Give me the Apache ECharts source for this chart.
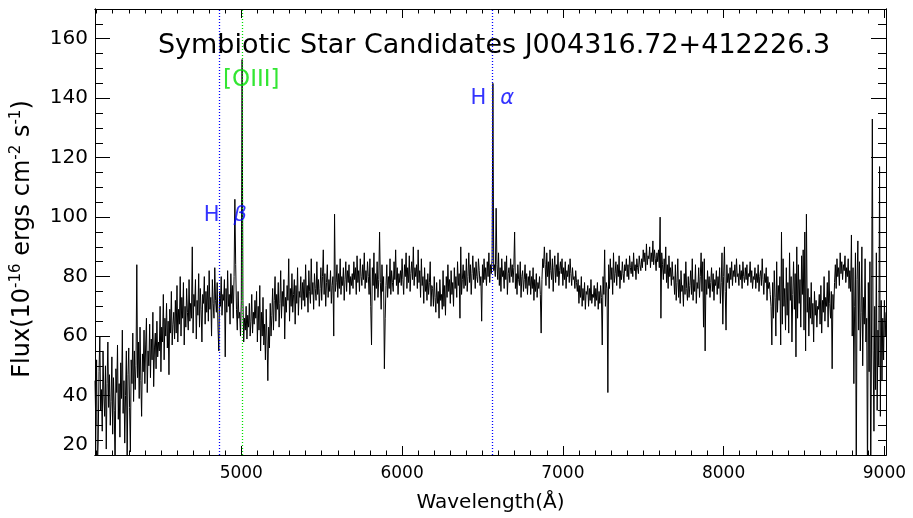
<!DOCTYPE html>
<html>
<head>
<meta charset="utf-8">
<script src="https://cdn.jsdelivr.net/npm/echarts@6/dist/echarts.min.js"></script>
<style>
html, body { margin: 0; padding: 0; background: #fff; }
#chart { width: 913px; height: 518px; }
</style>
</head>
<body>
<div id="chart"></div>
<script>
const waveStart = 4090;
const waveStep = 5;
const flux = [
  45,30,52,15,25,48,60,35,42,28,55,40,33,50,22,44,58,36,47,30,
  38,53,27,46,35,14,49,41,57,32,44,26,51,39,62,34,45,24,40,55,
  16,47,56,36,21,52,44,61,38,55,42,50,84,46,58,39,63,45,33,54,
  48,62,44,57,66,41,55,50,64,46,59,52,68,43,56,61,49,65,53,58,
  55,70,48,63,58,74,52,66,60,71,56,65,47,69,61,75,57,64,68,59,
  72,61,77,58,69,64,80,60,73,66,78,57,70,63,76,68,62,79,65,71,
  66,90,61,74,70,79,59,72,67,81,63,76,69,58,74,71,80,64,75,68,
  77,65,82,69,73,60,79,71,66,83,72,68,78,63,55,75,70,80,67,74,
  72,79,53,76,68,82,70,74,64,81,71,77,66,80,106,84,69,62,75,66,
  68,60,72,153,72,58,66,62,70,59,67,63,71,60,65,74,61,68,64,72,
  66,75,58,70,62,77,55,68,60,73,57,64,52,69,59,45,63,56,71,60,
  67,76,62,72,80,65,74,69,78,63,71,82,66,75,70,79,59,73,68,77,
  72,86,65,76,70,81,68,74,79,64,77,71,83,67,75,73,80,69,78,72,
  79,70,84,73,77,68,82,75,71,86,74,78,69,81,76,72,85,74,79,70,
  76,83,72,80,89,74,81,70,78,84,73,79,75,82,71,77,80,60,101,75,
  78,84,73,81,76,86,74,80,77,83,72,79,85,75,82,78,84,74,80,77,
  81,76,85,79,83,74,87,78,82,75,86,80,77,84,79,88,76,82,78,85,
  80,74,86,70,57,83,77,88,72,81,76,85,73,79,95,78,69,84,75,80,
  49,66,77,84,73,80,76,86,74,82,78,75,85,79,89,77,83,74,81,78,
  82,77,86,79,74,84,80,88,76,83,78,87,75,81,85,79,90,77,83,80,
  84,76,89,78,82,73,86,77,80,71,83,75,79,72,81,74,78,85,70,77,
  76,70,80,73,68,78,71,75,66,79,72,74,69,82,70,77,67,80,73,84,
  75,79,71,82,74,78,70,83,76,80,73,85,77,81,66,90,74,79,84,76,
  82,77,86,75,80,88,78,84,74,81,87,79,83,76,85,80,78,86,82,77,
  80,65,84,78,86,79,83,77,85,80,88,78,84,81,86,145,82,84,80,103,
  84,79,88,77,83,75,86,80,82,76,85,79,87,74,81,83,78,86,80,84,
  78,83,95,76,81,74,84,79,77,85,73,80,82,75,79,84,76,81,74,80,
  77,82,74,80,76,83,72,79,75,81,73,78,76,80,74,61,79,86,83,90,
  84,77,88,80,85,76,89,82,79,86,75,83,87,78,84,80,88,77,82,85,
  81,86,77,83,79,85,76,82,80,84,78,86,81,77,83,79,80,76,82,78,
  75,79,71,77,73,80,70,76,72,78,69,75,74,77,70,76,72,79,71,74,
  73,77,70,76,72,78,69,75,71,77,73,57,80,74,89,70,78,76,41,84,
  76,86,79,83,74,88,78,81,85,77,84,80,87,76,82,79,85,81,78,84,
  82,86,80,84,79,87,83,81,85,80,88,82,84,79,86,83,81,87,84,82,
  86,83,89,85,88,82,91,84,87,86,90,83,88,85,92,84,89,86,82,88,
  85,89,83,100,66,88,84,79,86,81,90,78,84,76,87,80,83,77,85,79,
  80,74,84,72,78,86,73,79,71,82,75,77,70,81,74,85,76,72,80,73,
  77,82,74,86,72,79,75,84,71,78,76,83,73,80,88,75,85,63,86,55,
  79,74,82,76,80,73,78,83,75,81,72,79,77,82,74,80,76,83,71,78,
  88,64,80,90,75,62,84,78,81,76,83,79,85,77,82,80,84,78,86,80,
  81,77,84,79,82,76,85,80,78,83,79,84,77,81,80,85,78,82,76,80,
  79,83,76,81,78,84,75,80,82,77,86,79,74,81,78,83,72,80,76,78,
  74,70,57,78,66,82,73,60,85,68,77,72,80,57,95,64,86,70,76,62,
  83,67,78,61,88,72,80,58,74,85,69,81,53,90,66,84,71,79,63,87,
  74,89,62,95,55,101,68,76,60,73,66,78,64,71,58,75,67,72,63,70,
  69,74,64,77,61,72,68,80,65,73,70,78,63,82,71,66,75,49,74,69,
  78,84,76,86,80,83,77,88,81,85,79,84,82,87,78,83,80,86,76,82,
  75,94,60,83,44,70,88,10,79,92,62,85,55,68,90,50,73,64,86,58,
  66,10,78,48,85,10,60,133,55,28,70,42,88,35,62,50,117,33,72,45,
  66,52,72,60,68
];

// marked lines (A) and their labels
const lineWaves = [4861, 5007, 6563];
const lineColors = ['#0000ff', '#00e000', '#0000ff'];
const labelX = [4900, 5062, 6561];
const labelY = [100.5, 146, 140];
const labelText = ['{h|H}{g|β}', '{o|[OIII]}', '{h|H}{g|α}'];

const xMin = 4090, xMax = 9010;
const yMin = 20, yMax = 170;
const xMajor = [5000, 6000, 7000, 8000, 9000];
const yMajor = [20, 40, 60, 80, 100, 120, 140, 160];
const xMinor = [];
for (let v = 4100; v <= 9000; v += 100) xMinor.push(v);
const yMinor = [];
for (let v = 20; v <= 170; v += 5) yMinor.push(v);

const spec = flux.map(function (f, i) { return [waveStart + i * waveStep, f]; });
const labels = labelX.map(function (x, i) { return [x, labelY[i], labelText[i]]; });

const font = 'DejaVu Sans';

function xAx(pos, ticks, len, withLabels) {
  return {
    type: 'value', min: xMin, max: xMax, position: pos,
    axisLine: { show: true, onZero: false, lineStyle: { color: '#000', width: 1 } },
    axisTick: { show: true, inside: true, length: len, customValues: ticks, lineStyle: { color: '#000', width: 1 } },
    axisLabel: withLabels ? {
      show: true, customValues: xMajor, color: '#000', fontSize: 17, fontFamily: font, margin: 10,
      formatter: function (v) { return String(v); }
    } : { show: false },
    splitLine: { show: false }
  };
}
function yAx(pos, ticks, len, withLabels) {
  return {
    type: 'value', min: yMin, max: yMax, position: pos,
    axisLine: { show: true, onZero: false, lineStyle: { color: '#000', width: 1 } },
    axisTick: { show: true, inside: true, length: len, customValues: ticks, lineStyle: { color: '#000', width: 1 } },
    axisLabel: withLabels ? {
      show: true, customValues: yMajor, color: '#000', fontSize: 20, fontFamily: font, margin: 7,
      verticalAlignMinLabel: 'bottom'
    } : { show: false },
    splitLine: { show: false }
  };
}

const xAxes = [xAx('bottom', xMajor, 9, true), xAx('bottom', xMinor, 4.5, false), xAx('top', xMajor, 9, false), xAx('top', xMinor, 4.5, false)];
xAxes[0].name = 'Wavelength(Å)';
xAxes[0].nameLocation = 'middle';
xAxes[0].nameGap = 38;
xAxes[0].nameTextStyle = { color: '#000', fontSize: 20, fontFamily: font };

const yAxes = [yAx('left', yMajor, 15, true), yAx('left', yMinor, 8, false), yAx('right', yMajor, 15, false), yAx('right', yMinor, 8, false)];
yAxes[0].name = 'Flux(10{s|-16} ergs cm{s|-2} s{s|-1})';
yAxes[0].nameLocation = 'middle';
yAxes[0].nameRotate = 90;
yAxes[0].nameGap = 58;
yAxes[0].nameTextStyle = {
  color: '#000', fontSize: 24, fontFamily: font, padding: [0, 14, 0, 0],
  rich: { s: { fontSize: 15, fontFamily: font, color: '#000', padding: [0, 0, 13, 0] } }
};

// one empty series per marked line, drawn under the spectrum
const lineSeries = lineWaves.map(function (w, i) {
  return {
    name: 'line' + i, type: 'line', data: [], z: 1,
    markLine: {
      silent: true, symbol: 'none', label: { show: false },
      lineStyle: { color: lineColors[i], width: 1.3, type: [1, 2], opacity: 1 },
      data: [{ xAxis: w }]
    }
  };
});

const chart = echarts.init(document.getElementById('chart'));
chart.setOption({
  animation: false,
  backgroundColor: '#fff',
  textStyle: { fontFamily: font },
  title: {
    text: 'Symbiotic Star Candidates J004316.72+412226.3',
    left: 489, top: 27, textAlign: 'center',
    textStyle: { color: '#000', fontSize: 27, fontWeight: 'normal', fontFamily: font }
  },
  grid: { left: 95, right: 27, top: 9, bottom: 61, containLabel: false },
  xAxis: xAxes,
  yAxis: yAxes,
  series: lineSeries.concat([
    {
      name: 'flux', type: 'line', data: spec, z: 3,
      showSymbol: false, symbol: 'none', clip: true,
      lineStyle: { color: '#000', width: 1 }
    },
    {
      name: 'labels', type: 'scatter', data: labels, symbolSize: 1,
      itemStyle: { color: 'rgba(0,0,0,0)' }, z: 5,
      label: {
        show: true, position: 'inside',
        formatter: function (p) { return p.data[2]; },
        rich: {
          h: { color: '#0000ff', fontSize: 21, fontFamily: font },
          g: { color: '#0000ff', fontSize: 21, fontFamily: font, fontStyle: 'italic', padding: [0, 0, 0, 14] },
          o: { color: '#00e000', fontSize: 23, fontFamily: font }
        }
      }
    }
  ])
});
</script>
</body>
</html>
